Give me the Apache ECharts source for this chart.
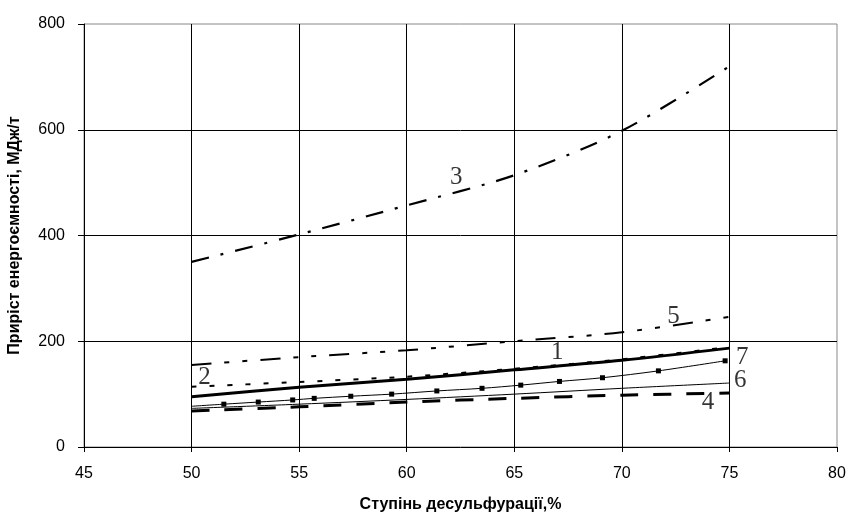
<!DOCTYPE html>
<html>
<head>
<meta charset="utf-8">
<script src="https://cdn.jsdelivr.net/npm/echarts@6/dist/echarts.min.js"></script>
<style>
html,body{margin:0;padding:0;background:#fff;}
#chart{width:846px;height:525px;}
</style>
</head>
<body>
<div id="chart"></div>
<script>
// ---- data ----
const xTicks = [45, 50, 55, 60, 65, 70, 75, 80];
const yTicks = [0, 200, 400, 600, 800];
const xs = [50, 55, 60, 65, 70, 75];
const s1 = [95, 113, 128, 146, 164, 187];
const s2 = [114, 123, 133, 148, 166, 189];
const s3 = [350, 402, 457, 514, 598, 720];
const s4 = [68, 76, 85, 92, 98, 102];
const s5 = [155, 170, 183, 200, 217, 246];
const s6 = [73, 81, 90, 100, 111, 121];
const s7x = [50, 51.5, 53.1, 54.7, 55.7, 57.4, 59.3, 61.4, 63.5, 65.3, 67.1, 69.1, 71.7, 74.8];
const s7 = [77, 81, 85, 89, 92, 96, 100, 106, 111, 117, 124, 131, 144, 163];
const curveNames = ['1', '2', '3', '4', '5', '6', '7'];
const labelX = [67.0, 50.6, 62.3, 74.0, 72.4, 75.5, 75.6];
const labelY = [178, 132, 510, 84, 246, 126, 170];

const pairs = (xa, ya) => xa.map((x, i) => [x, ya[i]]);
const fontSans = '"Liberation Sans", Arial, sans-serif';
const fontSerif = '"Liberation Serif", "Times New Roman", serif';

const chart = echarts.init(document.getElementById('chart'), null, {renderer: 'canvas'});

const lineSeries = (name, data, style, extra) => Object.assign({
  name: name,
  type: 'line',
  data: data,
  smooth: 0.3,
  showSymbol: false,
  symbol: 'none',
  silent: true,
  lineStyle: Object.assign({color: '#000', cap: 'butt'}, style)
}, extra || {});

const s7data = pairs(s7x, s7).map((p, i) => i === 0 ? {value: p, symbol: 'none'} : {value: p});

chart.setOption({
  animation: false,
  backgroundColor: '#fff',
  grid: {left: 84, right: 9, top: 24, bottom: 78, show: true, borderColor: '#888', borderWidth: 1,
         backgroundColor: 'transparent', containLabel: false, outerBoundsMode: 'none'},
  xAxis: {
    type: 'value', min: xTicks[0], max: xTicks[xTicks.length - 1], interval: 5,
    name: 'Ступінь десульфурації,%', nameLocation: 'middle', nameGap: 50,
    nameTextStyle: {fontFamily: fontSans, fontWeight: 'bold', fontSize: 16, color: '#000'},
    axisLine: {show: true, lineStyle: {color: '#000', width: 1}},
    axisTick: {show: true, length: 5, lineStyle: {color: '#000'}},
    axisLabel: {fontFamily: fontSans, fontSize: 16, color: '#000', margin: 19},
    splitLine: {show: true, showMaxLine: false, showMinLine: false, lineStyle: {color: '#000', width: 1}}
  },
  yAxis: {
    type: 'value', min: yTicks[0], max: yTicks[yTicks.length - 1], interval: 200,
    name: 'Приріст енергоємності, МДж/т', nameLocation: 'middle', nameGap: 61,
    nameTextStyle: {fontFamily: fontSans, fontWeight: 'bold', fontSize: 16, color: '#000'},
    axisLine: {show: true, lineStyle: {color: '#000', width: 1}},
    axisTick: {show: true, length: 6, lineStyle: {color: '#000'}},
    axisLabel: {fontFamily: fontSans, fontSize: 16, color: '#000', margin: 19},
    splitLine: {show: true, showMaxLine: false, showMinLine: false, lineStyle: {color: '#000', width: 1}}
  },
  series: [
    lineSeries('3', pairs(xs, s3), {width: 2.2, type: [18, 12, 3, 12]}),
    lineSeries('5', pairs(xs, s5), {width: 2, type: [20, 13, 5, 13, 5, 13]}),
    lineSeries('2', pairs(xs, s2), {width: 2, type: [5, 13]}),
    lineSeries('6', pairs(xs, s6), {width: 1}),
    lineSeries('4', pairs(xs, s4), {width: 3, type: [18, 15]}),
    lineSeries('1', pairs(xs, s1), {width: 3}),
    lineSeries('7', s7data, {width: 1}, {
      symbol: 'rect', symbolSize: 5, showSymbol: true, showAllSymbol: true,
      itemStyle: {color: '#000'}
    }),
    {
      name: 'labels', type: 'scatter', silent: true,
      symbolSize: 2, itemStyle: {color: 'rgba(0,0,0,0)'},
      data: curveNames.map((n, i) => [labelX[i], labelY[i], n]),
      labelLayout: {hideOverlap: false},
      label: {
        show: true, position: 'inside', formatter: p => p.data[2],
        fontFamily: fontSerif, fontSize: 25, color: '#000'
      }
    }
  ]
});
</script>
</body>
</html>
